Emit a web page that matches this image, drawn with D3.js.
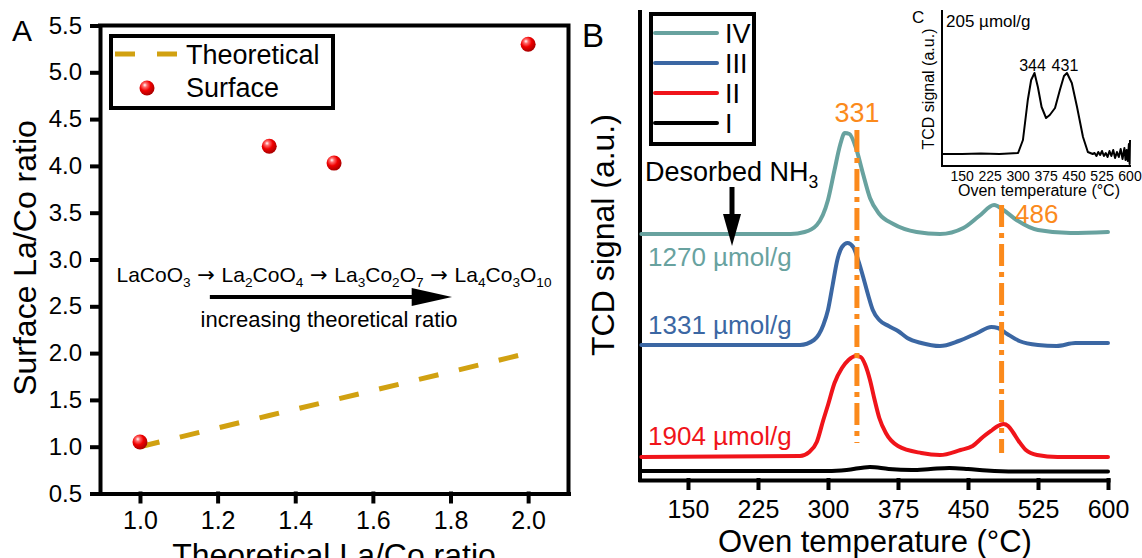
<!DOCTYPE html>
<meta charset="utf-8">
<style>
body { margin: 0; background: #fff; }
text { font-family: "Liberation Sans", Arial, sans-serif; fill: #000; }
.axis path, .axis line { stroke: #000; stroke-width: 4px; stroke-linecap: square; }
.axis text { font-size: 24px; }
.frame { stroke: #000; stroke-width: 4px; fill: none; stroke-linecap: square; }
.curve { fill: none; stroke-width: 4px; stroke-linejoin: round; stroke-linecap: round; }
.peak { stroke: #fb8a1c; stroke-width: 5px; stroke-dasharray: 22 6 5 6; }
.arr { font-family: "DejaVu Sans", sans-serif; }
</style>
<body>
<script src="https://d3js.org/d3.v7.min.js"></script>
<script>

// ---- panel A data
var theoRatio = [1.0, 1.333, 1.5, 2.0];
var theoSurface = [1.0, 1.333, 1.5, 2.0];
var surfRatio = [1.0, 1.333, 1.5, 2.0];
var surfValue = [1.05, 4.21, 4.03, 5.30];
var ratioTicks = [1.0, 1.2, 1.4, 1.6, 1.8, 2.0];
var surfTicks = [0.5, 1.0, 1.5, 2.0, 2.5, 3.0, 3.5, 4.0, 4.5, 5.0, 5.5];

// ---- panel B data (TPD curves, signal in a.u.)
var tempTicks = [150, 225, 300, 375, 450, 525, 600];
var tempIV = [100,260,275,288,300,307,313,318,323,330,337,345,355,370,395,420,445,462,478,488,502,525,560,600];
var sigIV  = [246,246,248,255,280,310,335,347,346,332,308,282,266,256,248,246,252,264,275,270,260,250,247,248];
var tempIII = [100,270,285,295,300,305,310,315,321,327,333,338,343,348,355,365,375,385,400,420,440,460,475,482,492,505,525,545,565,600];
var sigIII  = [135,135,140,155,170,195,220,233,237,233,218,202,185,170,160,154,149,142,137,134,139,147,153,152,146,139,135,134,137,137];
var tempII = [100,270,280,288,295,300,307,315,322,330,335,340,345,350,355,362,375,400,420,442,455,466,476,482,488,493,498,505,512,524,546,600];
var sigII  = [23,24,28,38,60,75,97,112,120,124,123,115,100,80,62,47,34,27,25,30,34,43,50,54,56,54,48,38,30,25,23,23];
var tempI = [100,300,320,345,365,390,410,430,450,470,500,600];
var sigI  = [9,9,10,13,11,10,11,12,11,9.5,8.5,8.5];
var seriesNames = ["IV", "III", "II", "I"];
var seriesColors = ["#68a29f", "#3b67a3", "#f0141a", "#000000"];
var uptakes = ["1270", "1331", "1904"];
var peakTemps = [331, 486];

// ---- inset C data
var tempC = [96,150,200,250,300,313,326,335,344,353,363,375,385,399,412,423,431,444,458,474,487,500,505,510,515,520,525,530,535,540,545,550,555,560,565,570,575,580,585,588,591,594,597,599,600];
var sigC  = [12,12,12.5,12,13,26,66,86,93,79,59,48,51,58,76,90,93,83,59,29,14,12,13,10,14,11,15,10,13,9,15,10,16,8,14,9,17,7,18,6,16,5,22,2,26];
var tempTicksC = [150, 225, 300, 375, 450, 525, 600];
var peakC = [344, 431];

var svg = d3.select("body").append("svg")
    .attr("width", 1142)
    .attr("height", 558);

var defs = svg.append("defs");
var grad = defs.append("radialGradient").attr("id", "ball")
    .attr("cx", "40%").attr("cy", "35%").attr("r", "65%")
    .attr("fx", "35%").attr("fy", "30%");
grad.append("stop").attr("offset", "0%").attr("stop-color", "#ffffff");
grad.append("stop").attr("offset", "22%").attr("stop-color", "#ff6a6a");
grad.append("stop").attr("offset", "55%").attr("stop-color", "#f00000");
grad.append("stop").attr("offset", "100%").attr("stop-color", "#a80000");

// text with subscripts: parts = [[text, isSub, cls], ...]
function subText(g, x, y, size, parts, anchor) {
  var t = g.append("text").attr("x", x).attr("y", y)
      .style("font-size", size + "px")
      .attr("text-anchor", anchor || "start");
  var down = false;
  parts.forEach(function(p) {
    var s = t.append("tspan").text(p[0]);
    if (p[2]) s.attr("class", p[2]);
    if (p[1] && !down) { s.attr("dy", size * 0.25).style("font-size", (size * 0.65) + "px"); down = true; }
    else if (p[1]) { s.style("font-size", (size * 0.65) + "px"); }
    else if (down) { s.attr("dy", -size * 0.25); down = false; }
  });
  return t;
}

// ================= panel A =================
var xA = d3.scaleLinear().domain([0.897, 2.104]).range([100, 568.5]);
var yA = d3.scaleLinear().domain([0.5, 5.5]).range([493.5, 25.5]);

var gA = svg.append("g");

gA.append("g").attr("class", "axis")
    .attr("transform", "translate(0," + yA(0.5) + ")")
    .call(d3.axisBottom(xA).tickValues(ratioTicks).tickSize(8).tickSizeOuter(0)
      .tickPadding(10).tickFormat(d3.format(".1f")))
    .selectAll("text").style("font-size", "25px");

gA.append("g").attr("class", "axis")
    .attr("transform", "translate(" + xA.range()[0] + ",0)")
    .call(d3.axisLeft(yA).tickValues(surfTicks).tickSize(8).tickSizeOuter(0)
      .tickPadding(10).tickFormat(d3.format(".1f")))
    .selectAll("text").style("font-size", "24px");

// top + right frame
gA.append("path").attr("class", "frame")
    .attr("d", "M" + xA.range()[0] + "," + yA(5.5) + "H" + xA.range()[1] + "V" + yA(0.5));

// theoretical dashed line
var lineA = d3.line().x(function(d, i) { return xA(theoRatio[i]); })
    .y(function(d, i) { return yA(theoSurface[i]); });
gA.append("path").datum(theoRatio)
    .attr("d", lineA)
    .attr("fill", "none").attr("stroke", "#d1a111")
    .attr("stroke-width", 5).attr("stroke-dasharray", "20 21");

// surface points
gA.selectAll(".ball").data(surfRatio).enter().append("circle")
    .attr("class", "ball")
    .attr("cx", function(d) { return xA(d); })
    .attr("cy", function(d, i) { return yA(surfValue[i]); })
    .attr("r", 7.5)
    .attr("fill", "url(#ball)");

// legend A
gA.append("rect").attr("x", 111).attr("y", 36).attr("width", 222).attr("height", 72)
    .attr("fill", "#fff").attr("stroke", "#000").attr("stroke-width", 4);
gA.append("line").attr("x1", 115).attr("x2", 177).attr("y1", 54).attr("y2", 54)
    .attr("stroke", "#d1a111").attr("stroke-width", 5).attr("stroke-dasharray", "20 22");
gA.append("text").attr("x", 186).attr("y", 64).style("font-size", "27px").text("Theoretical");
gA.append("circle").attr("cx", 147).attr("cy", 88).attr("r", 7.5).attr("fill", "url(#ball)");
gA.append("text").attr("x", 186).attr("y", 97).style("font-size", "27px").text("Surface");

// annotations
var ar = " \u2192 ";
subText(gA, 334, 282, 21, [["LaCoO"], ["3", 1], [ar, 0, "arr"], ["La"], ["2", 1], ["CoO"], ["4", 1],
  [ar, 0, "arr"], ["La"], ["3", 1], ["Co"], ["2", 1], ["O"], ["7", 1], [ar, 0, "arr"], ["La"], ["4", 1], ["Co"], ["3", 1], ["O"], ["10", 1]], "middle");
gA.append("line").attr("x1", xA(1.18)).attr("x2", xA(1.71)).attr("y1", 297).attr("y2", 297)
    .attr("stroke", "#000").attr("stroke-width", 4);
gA.append("path").attr("d", "M" + xA(1.70) + ",288 L" + xA(1.70) + ",306 L452,297 Z")
    .attr("fill", "#000");
gA.append("text").attr("x", 329).attr("y", 327).attr("text-anchor", "middle")
    .style("font-size", "22px").text("increasing theoretical ratio");

gA.append("text").attr("x", 334).attr("y", 566).attr("text-anchor", "middle")
    .style("font-size", "32px").text("Theoretical La/Co ratio");
gA.append("text").attr("transform", "translate(36,258) rotate(-90)")
    .attr("text-anchor", "middle").style("font-size", "32px").text("Surface La/Co ratio");
gA.append("text").attr("x", 12).attr("y", 41).style("font-size", "30px").text("A");

// ================= panel B =================
var xB = d3.scaleLinear().domain([98.6, 600]).range([640, 1108]);
var yB = d3.scaleLinear().domain([0, 468]).range([480, 12]);
var gB = svg.append("g");

gB.append("g").attr("class", "axis")
    .attr("transform", "translate(0," + yB(0) + ")")
    .call(d3.axisBottom(xB).tickValues(tempTicks).tickSize(8).tickSizeOuter(0).tickPadding(12))
    .selectAll("text").style("font-size", "25px");
gB.append("line").attr("class", "frame")
    .attr("x1", xB(98.6)).attr("x2", xB(98.6)).attr("y1", yB(0)).attr("y2", yB(468));

var lineB = d3.line().curve(d3.curveMonotoneX);
var temps = [tempIV, tempIII, tempII, tempI];
var sigs = [sigIV, sigIII, sigII, sigI];
temps.forEach(function(ts, k) {
  var pts = ts.map(function(t, i) { return [xB(t), yB(sigs[k][i])]; });
  gB.append("path").attr("class", "curve")
      .attr("d", lineB(pts))
      .attr("stroke", seriesColors[k]);
});

// peak markers
var peakTop = [350, 275], peakBottom = [37, 27];
peakTemps.forEach(function(t, i) {
  gB.append("line").attr("class", "peak")
      .attr("x1", xB(t)).attr("x2", xB(t))
      .attr("y1", yB(peakTop[i])).attr("y2", yB(peakBottom[i]));
});
gB.append("text").attr("x", xB(331)).attr("y", 122).attr("text-anchor", "middle")
    .style("font-size", "27px").style("fill", "#fb8a1c").text("331");
gB.append("text").attr("x", 1015).attr("y", 223)
    .style("font-size", "26px").style("fill", "#fb8a1c").text("486");

// uptake labels
var uptakeY = [266, 334, 445];
uptakes.forEach(function(u, i) {
  gB.append("text").attr("x", 648).attr("y", uptakeY[i])
      .style("font-size", "26px").style("fill", seriesColors[i])
      .text(u + " \u00b5mol/g");
});

// desorbed NH3 arrow
subText(gB, 645, 181, 27, [["Desorbed NH"], ["3", 1]]);
gB.append("line").attr("x1", 732).attr("x2", 732).attr("y1", 187).attr("y2", 218)
    .attr("stroke", "#000").attr("stroke-width", 5);
gB.append("path").attr("d", "M723,214 L741,214 L732,246 Z").attr("fill", "#000");

// legend B
gB.append("rect").attr("x", 651).attr("y", 14).attr("width", 103).attr("height", 130)
    .attr("fill", "#fff").attr("stroke", "#000").attr("stroke-width", 4);
seriesNames.forEach(function(n, i) {
  var y = 33 + i * 30;
  gB.append("line").attr("x1", 655).attr("x2", 717).attr("y1", y).attr("y2", y)
      .attr("stroke", seriesColors[i]).attr("stroke-width", 4).attr("stroke-linecap", "round");
  gB.append("text").attr("x", 725).attr("y", y + 10).style("font-size", "27px").text(n);
});

gB.append("text").attr("x", 875).attr("y", 552).attr("text-anchor", "middle")
    .style("font-size", "31px").text("Oven temperature (\u00b0C)");
gB.append("text").attr("transform", "translate(614,235) rotate(-90)")
    .attr("text-anchor", "middle").style("font-size", "32px").text("TCD signal (a.u.)");
gB.append("text").attr("x", 582).attr("y", 47).style("font-size", "33px").text("B");

// ================= inset C =================
var xC = d3.scaleLinear().domain([96, 600]).range([942, 1130]);
var yC = d3.scaleLinear().domain([0, 156]).range([166, 10]);
var gC = svg.append("g");

gC.append("path").attr("d", "M" + xC(96) + "," + yC(156) + "V" + yC(0) + "H" + (xC(600) + 1))
    .attr("fill", "none").attr("stroke", "#000").attr("stroke-width", 2);
var lineC = d3.line().x(function(d, i) { return xC(d); }).y(function(d, i) { return yC(sigC[i]); });
gC.append("path").datum(tempC).attr("d", lineC)
    .attr("fill", "none").attr("stroke", "#000").attr("stroke-width", 2).attr("stroke-linejoin", "round");

gC.selectAll(".tc").data(tempTicksC).enter().append("text")
    .attr("x", function(d) { return xC(d); }).attr("y", 181)
    .attr("text-anchor", "middle").style("font-size", "14px")
    .text(function(d) { return d; });
gC.append("text").attr("x", 1039).attr("y", 196).attr("text-anchor", "middle")
    .style("font-size", "16px").text("Oven temperature (\u00b0C)");
gC.append("text").attr("transform", "translate(934,89) rotate(-90)")
    .attr("text-anchor", "middle").style("font-size", "16px").text("TCD signal (a.u.)");
peakC.forEach(function(p) {
  gC.append("text").attr("x", xC(p) - 2).attr("y", 71).attr("text-anchor", "middle")
      .style("font-size", "16px").text(p);
});
gC.append("text").attr("x", 912).attr("y", 23).style("font-size", "17px").text("C");
gC.append("text").attr("x", 946).attr("y", 27).style("font-size", "17px").text("205 \u00b5mol/g");

</script>
</body>
</html>
